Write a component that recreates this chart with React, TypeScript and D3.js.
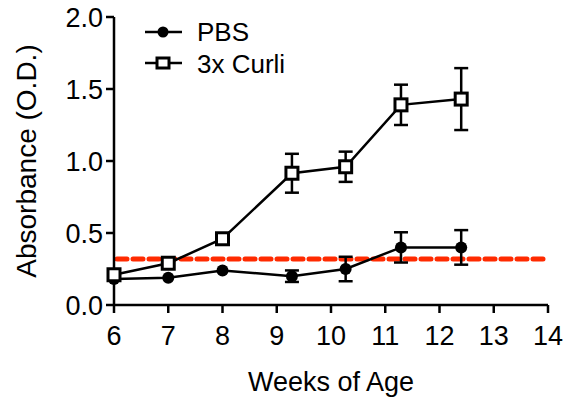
import React from 'react';
import * as d3 from 'd3';

const weeks = [6, 7, 8, 9.28, 10.27, 11.29, 12.4];
const pbsMean = [0.18, 0.19, 0.24, 0.2, 0.25, 0.4, 0.4];
const pbsErr = [0.02, 0.02, 0.02, 0.04, 0.085, 0.105, 0.12];
const curliMean = [0.21, 0.29, 0.46, 0.915, 0.96, 1.39, 1.43];
const curliErr = [0.02, 0.02, 0.02, 0.135, 0.105, 0.14, 0.215];
const xTicks = [6, 7, 8, 9, 10, 11, 12, 13, 14];
const yTicks = [0, 0.5, 1.0, 1.5, 2.0];
const cutoff = 0.32;

const W = 566;
const H = 399;
const font = 'Liberation Sans, Arial, sans-serif';

export default function App() {
  const x = d3.scaleLinear().domain([6, 14]).range([114, 548]);
  const y = d3.scaleLinear().domain([0, 2]).range([305, 17]);
  const line = d3.line<number>().x((d, i) => x(weeks[i])).y(d => y(d));

  const errBars = (mean: number[], err: number[]) =>
    mean.map((m, i) => {
      const cx = x(weeks[i]);
      if (err[i] < 0.03) return null;
      return (
        <g key={i} stroke="#000" strokeWidth={2.5}>
          <line x1={cx} x2={cx} y1={y(m - err[i])} y2={y(m + err[i])} />
          <line x1={cx - 7} x2={cx + 7} y1={y(m - err[i])} y2={y(m - err[i])} />
          <line x1={cx - 7} x2={cx + 7} y1={y(m + err[i])} y2={y(m + err[i])} />
        </g>
      );
    });

  return (
    <svg width={W} height={H} style={{ position: 'absolute', left: 0, top: 0 }}>
      <rect width={W} height={H} fill="#fff" />
      {/* cutoff line */}
      <line x1={x(6) + 3} x2={x(14) - 1} y1={y(cutoff)} y2={y(cutoff)}
        stroke="#ff2a00" strokeWidth={5} strokeDasharray="10 6" strokeLinecap="round" />
      {/* axes */}
      <g stroke="#000" strokeWidth={2.5}>
        <line x1={x(6)} x2={x(6)} y1={y(0) + 1} y2={y(2)} />
        <line x1={x(6)} x2={x(14)} y1={y(0)} y2={y(0)} />
        {xTicks.map(t => (
          <line key={t} x1={x(t)} x2={x(t)} y1={y(0)} y2={y(0) + 8} />
        ))}
        {yTicks.map(t => (
          <line key={t} x1={x(6) - 8} x2={x(6)} y1={y(t)} y2={y(t)} />
        ))}
      </g>
      <g fontFamily={font} fontSize={27} fill="#000">
        {xTicks.map(t => (
          <text key={t} x={x(t)} y={y(0) + 40} textAnchor="middle">{t}</text>
        ))}
        {yTicks.map(t => (
          <text key={t} x={x(6) - 11} y={y(t) + 9.5} textAnchor="end">{t.toFixed(1)}</text>
        ))}
      </g>
      <text x={(x(6) + x(14)) / 2} y={391} textAnchor="middle" fontFamily={font} fontSize={27}>Weeks of Age</text>
      <text transform={`translate(36,${(y(0) + y(2)) / 2}) rotate(-90)`} textAnchor="middle" fontFamily={font} fontSize={28}>Absorbance (O.D.)</text>

      {/* series */}
      {errBars(pbsMean, pbsErr)}
      {errBars(curliMean, curliErr)}
      <path d={line(pbsMean) || ''} fill="none" stroke="#000" strokeWidth={2.5} />
      <path d={line(curliMean) || ''} fill="none" stroke="#000" strokeWidth={2.5} />
      {pbsMean.map((m, i) => (
        <circle key={i} cx={x(weeks[i])} cy={y(m)} r={6} fill="#000" />
      ))}
      {curliMean.map((m, i) => (
        <rect key={i} x={x(weeks[i]) - 6} y={y(m) - 6} width={12} height={12}
          fill="#fff" stroke="#000" strokeWidth={3} />
      ))}

      {/* legend */}
      <g>
        <line x1={145} x2={182} y1={32} y2={32} stroke="#000" strokeWidth={2.5} />
        <circle cx={163} cy={32} r={5.5} fill="#000" />
        <text x={197} y={41} fontFamily={font} fontSize={26}>PBS</text>
        <line x1={145} x2={182} y1={63} y2={63} stroke="#000" strokeWidth={2.5} />
        <rect x={157} y={58} width={12} height={10} fill="#fff" stroke="#000" strokeWidth={3} />
        <text x={197} y={73} fontFamily={font} fontSize={26}>3x Curli</text>
      </g>
    </svg>
  );
}
